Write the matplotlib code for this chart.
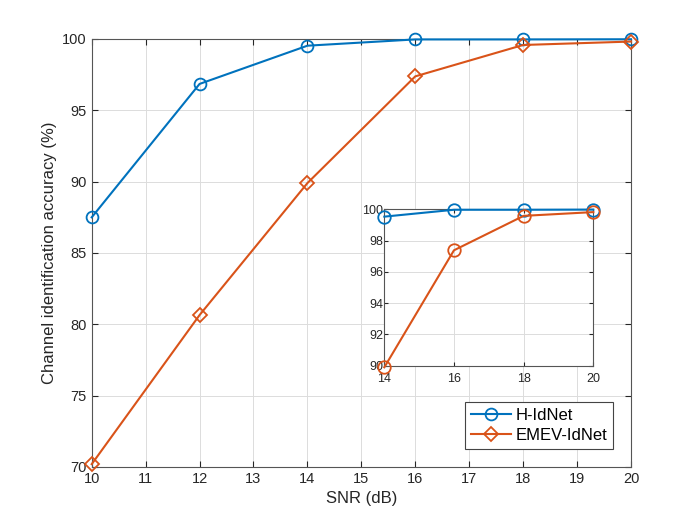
import matplotlib.pyplot as plt

plt.rcParams['font.family'] = ['Liberation Sans', 'DejaVu Sans']

snr = [10, 12, 14, 16, 18, 20]
h_idnet = [87.5, 96.85, 99.53, 99.97, 99.97, 99.98]
emev_idnet = [70.2, 80.65, 89.9, 97.38, 99.58, 99.82]

snr_zoom = [14, 16, 18, 20]
h_zoom = [99.53, 99.97, 99.97, 99.98]
emev_zoom = [89.9, 97.38, 99.58, 99.82]

blue = '#0072BD'
orange = '#D95319'
axc = '#262626'

fig = plt.figure(figsize=(6.98, 5.24), dpi=100)
ax = fig.add_axes([0.1314, 0.1088, 0.7726, 0.8168])

ax.plot(snr, h_idnet, '-o', color=blue, lw=1.5, ms=8.5, mfc='none', mew=1.3,
        label='H-IdNet', clip_on=False, zorder=3)
ax.plot(snr, emev_idnet, '-D', color=orange, lw=1.5, ms=7.5, mfc='none', mew=1.3,
        label='EMEV-IdNet', clip_on=False, zorder=3)

ax.set_xlim(10, 20)
ax.set_ylim(70, 100)
ax.set_xticks(range(10, 21))
ax.set_yticks(range(70, 101, 5))
ax.grid(True, color='#dcdcdc', lw=0.7)
ax.tick_params(direction='in', top=True, right=True, labelsize=10.5, colors=axc, length=4)
for s in ax.spines.values():
    s.set_color('#555555')
    s.set_linewidth(0.8)
ax.set_xlabel('SNR (dB)', fontsize=12, color=axc)
ax.set_ylabel('Channel identification accuracy (%)', fontsize=12, color=axc)

leg = ax.legend(loc='lower right', bbox_to_anchor=(0.983, 0.023), fontsize=12,
                fancybox=False, framealpha=1, edgecolor='#444444',
                handlelength=2.4, handletextpad=0.3, borderpad=0.35, labelspacing=0.3)
leg.get_frame().set_linewidth(0.8)

ins = fig.add_axes([0.5506, 0.302, 0.2994, 0.2986])
ins.plot(snr_zoom, h_zoom, '-o', color=blue, lw=1.5, ms=9, mfc='none', mew=1.3,
         clip_on=False, zorder=3)
ins.plot(snr_zoom, emev_zoom, '-o', color=orange, lw=1.5, ms=9, mfc='none', mew=1.3,
         clip_on=False, zorder=3)
ins.set_xlim(14, 20)
ins.set_ylim(90, 100)
ins.set_xticks(snr_zoom)
ins.set_yticks(range(90, 101, 2))
ins.grid(True, color='#dcdcdc', lw=0.7)
ins.tick_params(direction='in', top=True, right=True, labelsize=9, colors=axc, length=3)
ins.tick_params(axis='x', pad=5)
ins.tick_params(axis='y', pad=1)
for s in ins.spines.values():
    s.set_color('#555555')
    s.set_linewidth(0.8)

fig.savefig('out.png', dpi=100)
